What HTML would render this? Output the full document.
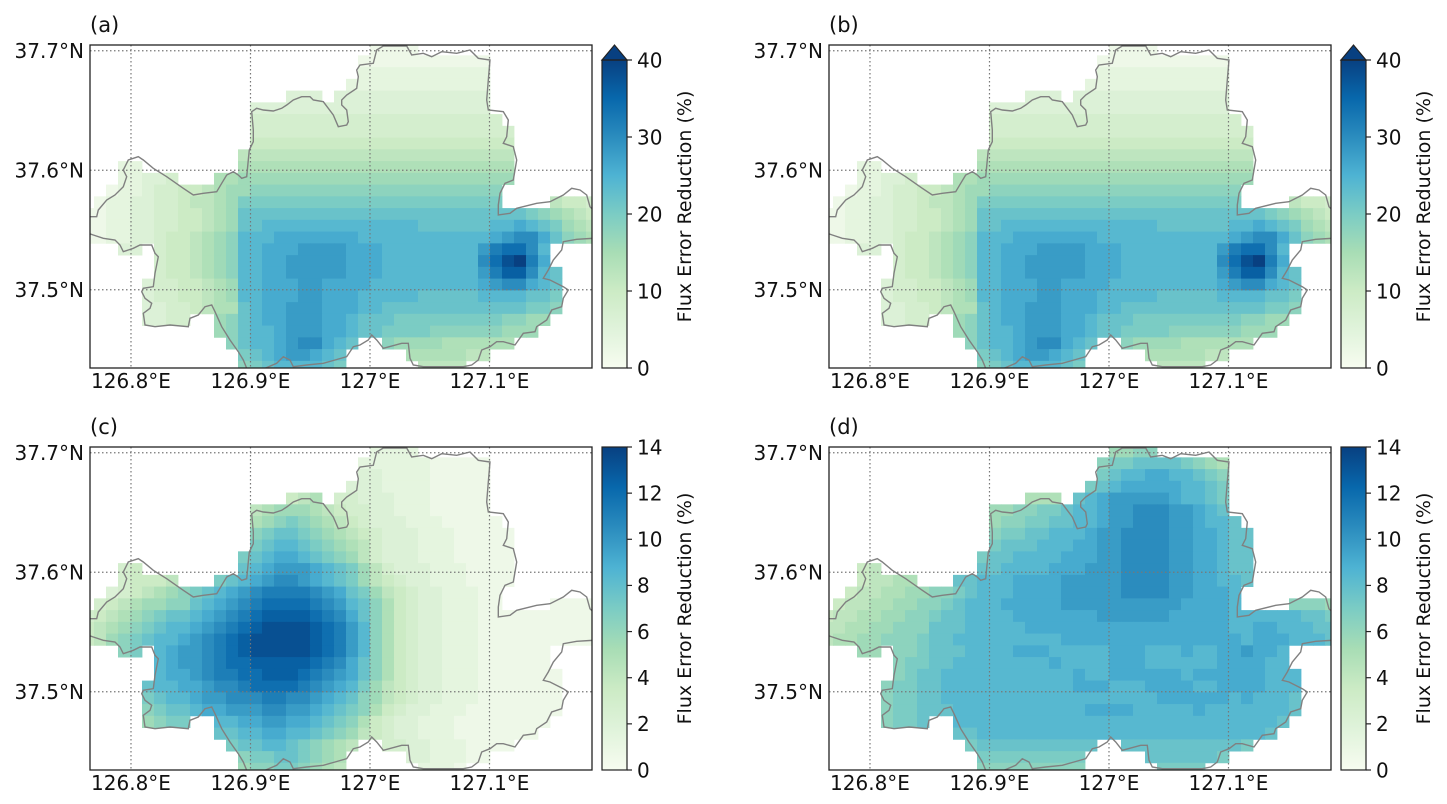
<!DOCTYPE html>
<html><head><meta charset="utf-8"><style>
html,body{margin:0;padding:0;background:#fff;}
svg{display:block;font-family:"DejaVu Sans","Liberation Sans",sans-serif;}
</style></head><body>
<svg id="fig" width="1447" height="804" viewBox="0 0 1447 804" xmlns="http://www.w3.org/2000/svg"></svg>
<script>
// ---- data ----
const lonTicks = [126.8, 126.9, 127.0, 127.1];
const lonLabels = ["126.8°E", "126.9°E", "127°E", "127.1°E"];
const latTicks = [37.5, 37.6, 37.7];
const latLabels = ["37.5°N", "37.6°N", "37.7°N"];
const panelLetters = ["(a)", "(b)", "(c)", "(d)"];
const cbarMax = [40, 40, 14, 14];
const cbarTicksAB = [0, 10, 20, 30, 40];
const cbarTicksCD = [0, 2, 4, 6, 8, 10, 12, 14];
const levelStep = [2, 2, 0.7, 0.7];
// each row: list of [startColumn, levelString]
const gridA = [
[[24,"1111"]],
[[23,"11111111111"]],
[[23,"22222222222"]],
[[22,"222222222222"]],
[[17,"333"],[21,"3333333333333"]],
[[14,"33333333333333333333"]],
[[14,"444444444444444444444"]],
[[14,"4444444444444444444444"]],
[[14,"5555555555555555555555"]],
[[13,"66666666666666666666666"]],
[[3,"22"],[13,"77777777777777777777777"]],
[[3,"22334"],[11,"7788888888888888888888888"]],
[[2,"1223"+"445"+"567"+"88"+"999999999999999999999"]],
[[1,"1"+"223"+"3445"+"6678"+"aaaaaaaaaaaaaaaaaaaaaa"],[39,"6554"]],
[[0,"1122"+"33445"+"5678"+"bbbbbbbbbbbbbbbbbbbb"+"bbbb"+"a98765"]],
[[0,"1122"+"33445"+"5678"+"bbcccccccccccccbbbbb"+"bccd"+"cba876"]],
[[0,"1122"+"33455"+"6789"+"cccdddddddcccccccccc"+"cdef"+"fdb987"]],
[[3,"33"],[6,"455"+"6789"+"ccdddeeeedddcccccccc"+"eghhfc"]],
[[6,"455"+"6789"+"ccddeeeeedddcccccccc"+"fhjkgd"]],
[[6,"455"+"6789"+"ccddeeeeedddcccccccc"+"egiifcb"]],
[[5,"3445"+"5678"+"ccdddeeddddccccccccc"+"deffdcb"]],
[[5,"3445"+"5678"+"ccdddeedddcccccbbbbb"+"ccccbba"]],
[[5,"3344"+"5677"+"bcddeeedddccbbbbbbbb"+"bbbbaa9"]],
[[5,"3344"],[11,"89"+"bcddeeeddcbbbaaaaaaa"+"aa9988"]],
[[11,"89"+"bccdeeeddcbbaaaa9999"+"99888"]],
[[12,"9bccdeffdcb"],[25,"98888777777"]],
[[13,"abcdeedcb"],[27,"7777766"]],
[[13,"9abccccba"],[28,"6666"]]
];
const gridB = [
[[24,"1111"]],
[[23,"11111111111"]],
[[23,"22222222222"]],
[[22,"222222222222"]],
[[17,"333"],[21,"3333333333333"]],
[[14,"33333333333333333333"]],
[[14,"444444444444444444444"]],
[[14,"4444444444444444444444"]],
[[14,"5555555555555555555555"]],
[[13,"66666666666666666666666"]],
[[3,"22"],[13,"77777777777777777777777"]],
[[3,"22334"],[11,"7788888888888888888888888"]],
[[2,"1223"+"445"+"567"+"88"+"999999999999999999999"]],
[[1,"1"+"223"+"3445"+"6678"+"aaaaaaaaaaaaaaaaaaaaaa"],[39,"6554"]],
[[0,"1122"+"33445"+"5678"+"bbbbbbbbbbbbbbbbbbbb"+"bbbb"+"a98765"]],
[[0,"1122"+"33445"+"5678"+"bbcccccccccccccbbbbb"+"bccd"+"cba876"]],
[[0,"1122"+"33455"+"6789"+"cccdddddddcccccccccc"+"cdef"+"fdb987"]],
[[3,"33"],[6,"455"+"6789"+"ccdddeeeedddcccccccc"+"eghhfc"]],
[[6,"455"+"6789"+"ccddeeeeedddcccccccc"+"fhjkgd"]],
[[6,"455"+"6789"+"ccddeeeeedddcccccccc"+"egiifcb"]],
[[5,"3445"+"5678"+"ccdddeeddddccccccccc"+"deffdcb"]],
[[5,"3445"+"5678"+"ccdddeedddcccccbbbbb"+"ccccbba"]],
[[5,"3344"+"5677"+"bcddeeedddccbbbbbbbb"+"bbbbaa9"]],
[[5,"3344"],[11,"89"+"bcddeeeddcbbbaaaaaaa"+"aa9988"]],
[[11,"89"+"bccdeeeddcbbaaaa9999"+"99888"]],
[[12,"9bccdeffdcb"],[25,"98888777777"]],
[[13,"abcdeedcb"],[27,"7777766"]],
[[13,"9abccccba"],[28,"6666"]]
];
const gridC = [
[[24,"2222"]],
[[23,"22222211111"]],
[[23,"33222211111"]],
[[22,"333222211111"]],
[[17,"567"],[21,"4433322211111"]],
[[14,"6788876"+"5443322211111"]],
[[14,"789a987"+"65433322211111"]],
[[14,"9abba98"+"765433322211111"]],
[[14,"abccba9"+"876433322211111"]],
[[13,"abcddcba"+"986433322211111"]],
[[3,"45"],[13,"bcdeeedcb"+"a8643332221111"]],
[[3,"45556"],[11,"ab"+"cdeffedcb"+"a8654332221111"]],
[[2,"3456789"+"abcd"+"efggggfed"+"ba86543322211"]],
[[1,"45678899"+"bcde"+"fghhhhgfe"+"cb97543322211"],[39,"1111"]],
[[0,"456789abb"+"cdef"+"ghiiiihgf"+"db9754332221111111111"]],
[[0,"56789abcc"+"defg"+"hijjjjihg"+"ec9754332221111111111"]],
[[0,"5689abccd"+"efgh"+"ijjjjjihg"+"ec9754332221111111111"]],
[[3,"9a"],[6,"cde"+"efgh"+"ijjjjjihg"+"ec975433222111111"]],
[[6,"cde"+"efgh"+"hiiiiihgf"+"db975433222111111"]],
[[6,"cdd"+"efgg"+"hhiiihgfe"+"db9754332221111111"]],
[[5,"bccd"+"deff"+"ghhhhgfed"+"ca8654332221111111"]],
[[5,"abcc"+"deef"+"ffggffedc"+"b98654332221111111"]],
[[5,"9abb"+"cdde"+"eeffeedcb"+"a97543322211111111"]],
[[5,"89aa"],[11,"cc"+"ddeeddcba"+"97543322211111111"]],
[[11,"bb"+"ccddccba9"+"8654332221111111"]],
[[12,"abbccba9876"],[25,"44332221111"]],
[[13,"9aabba987"],[27,"3322211"]],
[[13,"899aa9876"],[28,"2221"]]
];
const gridD = [
[[24,"8899"]],
[[23,"9aabbbba987"]],
[[23,"abccddccba9"]],
[[22,"abcdddddccba"]],
[[17,"777"],[21,"bcdeeeeedccba"]],
[[14,"8899aab"+"ccdeefffeedcb"]],
[[14,"899aabb"+"ccdeefffeedccb"]],
[[14,"9aabbcc"+"cdeeffffeeddcbb"]],
[[14,"abbbccc"+"ddeeffffeeddcbb"]],
[[13,"abbccccd"+"ddeeffffeeddcbb"]],
[[3,"56"],[13,"bbccccdd"+"deeeffffeeddcbb"]],
[[3,"56677"],[11,"bb"+"cccdddde"+"eeeeffffeeddccb"]],
[[2,"5667788"+"99ab"+"cccddddeeeeeffffeedddc"]],
[[1,"56677889"+"9abc"+"ccdddddeeeeeeeeeeddddc"],[39,"9998"]],
[[0,"566778899"+"abbc"+"cccdddddddeeeeeedddddc"+"cccccbba"]],
[[0,"667788999"+"bbbc"+"ccccdddddddddddddddddc"+"cddcccbb"]],
[[0,"67788999a"+"bbcc"+"cccccccddddddddddddddd"+"cdddcccb"]],
[[3,"88"],[6,"99a"+"bbbc"+"cccdddcccccdddcccdcc"+"ddeddc"]],
[[6,"9aa"+"bbcc"+"ccccccdccccdddcccccc"+"ddddcc"]],
[[6,"9ab"+"bccc"+"ccccccccdccddddddcdd"+"ddddccc"]],
[[5,"9aab"+"bccc"+"ccccccccdddcccddddcc"+"ddddccc"]],
[[5,"9aab"+"bccc"+"cccccccccccccccddddd"+"dcdcccb"]],
[[5,"9aab"+"bbcc"+"cccccccccddddcccccdc"+"ccccccb"]],
[[5,"9aab"],[11,"cc"+"cccccccccccccccccccc"+"cccccb"]],
[[11,"bb"+"cccccccccccccccccccc"+"ccccb"]],
[[12,"abbbbbbbbbb"],[25,"bbbbbbbbbba"]],
[[13,"aaaaaaaaa"],[27,"bbbbbba"]],
[[13,"999999999"],[28,"aaaa"]]
];
const grids = [gridA, gridB, gridC, gridD];

// Seoul boundary outline (reference-crop pixel coords, 3x scale)
const boundaryPx = [[850,70],[860,30],[880,18],[950,18],[965,45],[1000,40],[1025,50],[1055,35],[1100,40],[1140,30],[1165,55],[1200,60],[1195,120],[1190,180],[1195,210],[1240,215],[1255,240],[1250,290],[1240,310],[1270,320],[1280,360],[1275,390],[1270,420],[1245,430],[1230,460],[1225,495],[1225,525],[1260,520],[1280,505],[1340,490],[1380,485],[1420,465],[1445,445],[1470,450],[1490,465],[1500,500],[1510,510],[1510,595],[1460,598],[1420,605],[1415,630],[1390,660],[1375,690],[1360,715],[1380,720],[1420,740],[1435,750],[1420,775],[1415,800],[1385,810],[1370,840],[1340,860],[1335,875],[1300,880],[1275,915],[1240,905],[1220,905],[1200,920],[1175,930],[1165,960],[1145,975],[1120,980],[1000,980],[970,975],[960,955],[955,910],[935,910],[880,925],[860,900],[845,885],[835,900],[810,915],[790,920],[770,950],[735,960],[700,970],[650,975],[610,980],[600,960],[580,950],[560,970],[525,985],[470,985],[460,960],[445,935],[420,900],[395,860],[375,815],[365,795],[345,800],[325,825],[300,835],[295,860],[240,855],[195,860],[165,855],[160,820],[180,805],[185,790],[165,775],[155,755],[160,745],[190,740],[195,700],[205,650],[195,640],[185,615],[150,615],[130,625],[100,635],[90,615],[75,600],[40,595],[10,585],[-5,580],[-5,530],[20,530],[25,510],[50,480],[75,465],[100,440],[110,410],[100,390],[115,360],[145,350],[160,360],[190,385],[230,410],[280,445],[310,465],[340,460],[380,455],[395,430],[410,405],[430,395],[445,405],[455,415],[470,410],[475,360],[478,330],[490,305],[490,270],[485,215],[500,205],[520,210],[550,213],[575,205],[590,195],[610,180],[635,170],[660,170],[670,180],[700,185],[715,205],[730,225],[745,260],[770,255],[775,245],[770,210],[755,195],[755,180],[770,165],[800,145],[805,110],[800,90],[810,75],[850,70]];

// ---- layout ----
const NS = "http://www.w3.org/2000/svg";
const svg = document.getElementById("fig");
const panels = [{x:90,y:45},{x:829,y:45},{x:90,y:447},{x:829,y:447}];
const PW = 502, PH = 323;
const lon0 = 126.7657, pxPerLon = 1195;
const lat0 = 37.7048, pxPerLat = 1195;
function xScale(p, lon){ return p.x + (lon - lon0) * pxPerLon; }
function yScale(p, lat){ return p.y + (lat0 - lat) * pxPerLat; }
const stops = ["#f7fcf0","#e0f3db","#ccebc5","#a8ddb5","#7bccc4","#4eb3d3","#2b8cbe","#0868ac","#084081"];
function hex(h){ return [parseInt(h.substr(1,2),16),parseInt(h.substr(3,2),16),parseInt(h.substr(5,2),16)]; }
function cmap(t){
  t = Math.max(0, Math.min(1, t));
  const f = t * (stops.length - 1), i = Math.min(Math.floor(f), stops.length - 2), u = f - i;
  const a = hex(stops[i]), b = hex(stops[i+1]);
  return "rgb(" + a.map((v,k)=>Math.round(v + (b[k]-v)*u)).join(",") + ")";
}
function mk(tag, attrs, parent){
  const e = document.createElementNS(NS, tag);
  for (const k in attrs) e.setAttribute(k, attrs[k]);
  (parent || svg).appendChild(e);
  return e;
}
const CW = 12, CH = 11.75, CX0 = -8, CY0 = -1.4;
const defs = mk("defs", {});
const digits = "0123456789abcdefghijklmnopqrstuvwxyz";

panels.forEach((p, pi) => {
  const g = mk("g", {});
  
  
  const cp = mk("clipPath", {id: "clip" + pi}, defs);
  mk("rect", {x: p.x, y: p.y, width: PW, height: PH}, cp);
  const cells = mk("g", {"clip-path": "url(#clip" + pi + ")"}, g);
  
  
  grids[pi].forEach((segs, r) => {
    segs.forEach(seg => {
      const start = seg[0], str = seg[1];
      for (let k = 0; k < str.length; k++) {
        const d = digits.indexOf(str[k]);
        if (d < 0) continue;
        const c = start + k;
        const val = d * levelStep[pi];
        const rc = mk("rect", {x: p.x + CX0 + c*CW, y: p.y + CY0 + r*CH, width: CW + 0.4, height: CH + 0.4, fill: cmap(val / cbarMax[pi])}, cells);
        
        
      }
    });
  });
  const d = boundaryPx.map((q, i) => (i ? "L" : "M") + (p.x + q[0]/3).toFixed(1) + " " + (p.y - 5 + q[1]/3).toFixed(1)).join(" ");
  const bd = mk("path", {d: d + "Z", fill: "none", stroke: "#808080", "stroke-width": 1.4, "clip-path": "url(#clip" + pi + ")"}, g);
  
  
  lonTicks.forEach((lon, i) => {
    const x = xScale(p, lon);
    const l = mk("line", {x1: x, y1: p.y, x2: x, y2: p.y + PH, stroke: "#777", "stroke-width": 1.2, "stroke-dasharray": "1.5,2.5"}, g);
    
    
    const t = mk("text", {x: x, y: p.y + PH + 20, "text-anchor": "middle", "font-size": 20, fill: "#111"}, g);
    t.textContent = lonLabels[i];
    
    
  });
  latTicks.forEach((lat, i) => {
    const y = yScale(p, lat);
    const l = mk("line", {x1: p.x, y1: y, x2: p.x + PW, y2: y, stroke: "#777", "stroke-width": 1.2, "stroke-dasharray": "1.5,2.5"}, g);
    
    
    const t = mk("text", {x: p.x - 6, y: y + 7.3, "text-anchor": "end", "font-size": 20, fill: "#111"}, g);
    t.textContent = latLabels[i];
    
    
  });
  const fr = mk("rect", {x: p.x, y: p.y, width: PW, height: PH, fill: "none", stroke: "#222", "stroke-width": 1.3}, g);
  
  
  const tl = mk("text", {x: p.x, y: p.y - 13, "font-size": 21, fill: "#111"}, g);
  tl.textContent = panelLetters[pi];
  
  

  const cb = mk("g", {}, g);
  
  
  const cx = p.x + 512, cw = 25;
  const ext = pi < 2;
  const top = ext ? p.y + 15 : p.y, bot = p.y + PH;
  const gid = "cbg" + pi;
  const lg = mk("linearGradient", {id: gid, x1: 0, y1: 1, x2: 0, y2: 0}, defs);
  stops.forEach((s, i) => mk("stop", {offset: i/(stops.length-1), "stop-color": s}, lg));
  mk("rect", {x: cx, y: top, width: cw, height: bot - top, fill: "url(#" + gid + ")"}, cb);
  if (ext) {
    mk("path", {d: `M${cx} ${top} L${cx+cw/2} ${p.y} L${cx+cw} ${top} Z`, fill: stops[8], stroke: "#222", "stroke-width": 1.2}, cb);
  }
  mk("rect", {x: cx, y: top, width: cw, height: bot - top, fill: "none", stroke: "#222", "stroke-width": 1.2}, cb);
  const ticks = pi < 2 ? cbarTicksAB : cbarTicksCD;
  ticks.forEach(v => {
    const y = bot - (v / cbarMax[pi]) * (bot - top);
    mk("line", {x1: cx + cw, y1: y, x2: cx + cw + 5, y2: y, stroke: "#222", "stroke-width": 1.2}, cb);
    const t = mk("text", {x: cx + cw + 10, y: y + 7.3, "font-size": 20, fill: "#111"}, cb);
    t.textContent = v;
    
    
  });
  const lab = mk("text", {x: 0, y: 0, "font-size": 19, fill: "#111", "text-anchor": "middle", transform: `translate(${cx + 89},${(p.y + bot)/2}) rotate(-90)`}, cb);
  lab.textContent = "Flux Error Reduction (%)";
  
  
});
</script>
</body></html>
